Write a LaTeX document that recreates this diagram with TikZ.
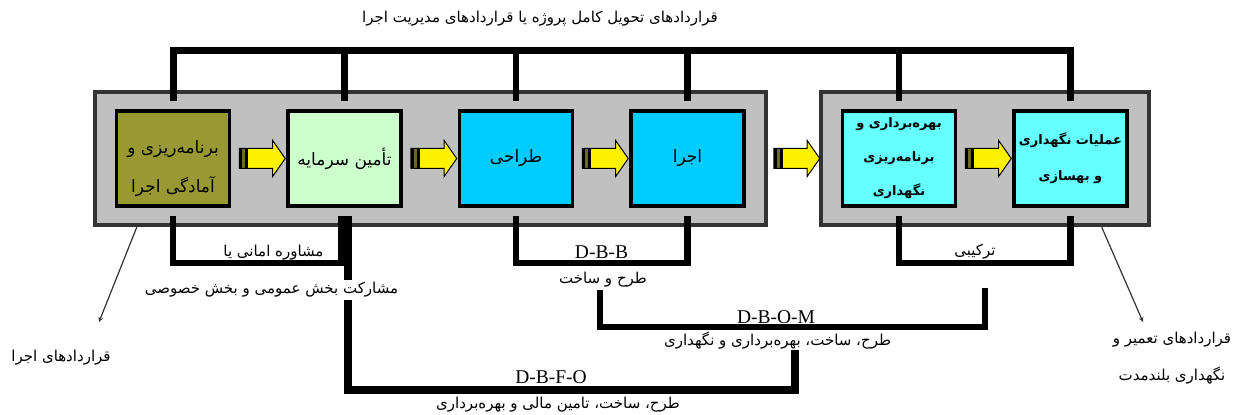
\documentclass[tikz,border=0pt]{standalone}
\usepackage{fontspec}
\usepackage{xcolor}
\usetikzlibrary{arrows.meta,arrows}
\usetikzlibrary{arrows,positioning,shadows,fit,shapes,calc,shapes.geometric,shapes.arrows,backgrounds}

\setmainfont{Liberation Serif}
\newfontfamily\farsifont[Script=Arabic]{DejaVu Sans}
\TeXXeTstate=1
\newcommand{\fatxt}[1]{{\farsifont\beginR #1\endR}}

\definecolor{olivebox}{HTML}{999933}
\definecolor{greenbox}{HTML}{CCFFCC}
\definecolor{bluebox}{HTML}{00CCFF}
\definecolor{cyanbox}{HTML}{66FFFF}
\definecolor{panelgray}{HTML}{C0C0C0}
\definecolor{panelrim}{HTML}{333333}

\begin{document}
\begin{tikzpicture}[
			x = 1pt, y = 1pt, % one unit is one pixel
			> = stealth, % arrow head style
			node distance = 171.5pt, % distance between stage boxes
			line join = miter
		]
		
		\tikzstyle{stage}=[
		draw = black,
		line width = 3.5pt,
		minimum width = 113pt,
		minimum height = 95pt,
		inner sep = 0pt,
		align = center,
		font = \fontsize{17}{39}\selectfont
		]
		\tikzstyle{panel}=[draw = panelrim, line width = 4pt, fill = panelgray, inner xsep = 20pt, inner ysep = 17.5pt]
		\tikzstyle{fatarrow}=[
		single arrow, draw = black, line width = 1pt, fill = yellow,
		minimum height = 46pt, text height = 19pt, text depth = 0pt, inner sep = 0pt,
		single arrow head extend = 8pt, single arrow tip angle = 110,
		path picture = {
			\fill[black] (path picture bounding box.south west) rectangle ([xshift=9pt]path picture bounding box.north west);
			\fill[olivebox!70!black] ([xshift=3pt]path picture bounding box.south west) rectangle ([xshift=6pt]path picture bounding box.north west);
		}
		]
		\tikzstyle{bar}=[draw = black, line width = 6.5pt]
		\tikzstyle{remark}=[font = \fontsize{15}{17}\selectfont, inner sep = 2pt]
		\tikzstyle{acronym}=[font = \fontsize{19.5}{22}\selectfont, inner sep = 1pt]
		\tikzstyle{pointer}=[->, draw = black!80, line width = 1.2pt]
		
		\useasboundingbox (0,0) rectangle (1235,415);
		
		% stages
		\node[stage, fill = olivebox] (b1) at (173, 256.5) {\rule{0pt}{33pt}\fatxt{برنامه‌ریزی و}\\\fatxt{آمادگی اجرا}};
		\node[stage, fill = greenbox, right of = b1] (b2) {\fatxt{تأمین سرمایه}};
		\node[stage, fill = bluebox, right of = b2] (b3) {\fatxt{طراحی}};
		\node[stage, fill = bluebox, right of = b3] (b4) {\fatxt{اجرا}};
		\node[stage, fill = cyanbox, right of = b4, xshift = 40pt, font = \fontsize{13}{34}\selectfont\bfseries] (b5) {\fatxt{بهره‌برداری و}\\\fatxt{برنامه‌ریزی}\\\fatxt{نگهداری}};
		\node[stage, fill = cyanbox, right of = b5, font = \fontsize{13}{36}\selectfont\bfseries] (b6) {\fatxt{عملیات نگهداری}\\\fatxt{و بهسازی}};
		
		\begin{scope}[on background layer]
			\node[panel, fit = (b1) (b4)] (p1) {};
			\node[panel, fit = (b5) (b6)] (p2) {};
		\end{scope}
		
		\node[fatarrow] (a1) at ($(b1.east)!0.5!(b2.west)$) {};
		\node[fatarrow] (a2) at ($(b2.east)!0.5!(b3.west)$) {};
		\node[fatarrow] (a3) at ($(b3.east)!0.5!(b4.west)$) {};
		\node[fatarrow] (a4) at ($(p1.east)!0.5!(p2.west)$) {};
		\node[fatarrow] (a5) at ($(b5.east)!0.5!(b6.west)$) {};
		
		% brackets
		\coordinate (top) at (0, 364.5);
		\coordinate (low) at (0, 152);
		\coordinate (b2l) at ([xshift=-3.5pt]b2.south);
		\coordinate (b2r) at ([xshift=3.5pt]b2.south);
		\coordinate (dbomL) at (600, 127);
		\coordinate (dbomR) at (985, 127);
		\coordinate (dbom) at (0, 88);
		\coordinate (dbfo) at (794.5, 25);
		\coordinate (dbfoE) at (794.5, 73);
		
		\draw[bar, line width = 7pt, shorten <= 8pt, shorten >= 8pt] (b1.north) |- (top -| b6.north) -- (b6.north);
		\draw[bar, shorten >= 8pt] (top -| b2.north) -- (b2.north);
		\draw[bar, shorten >= 8pt] (top -| b3.north) -- (b3.north);
		\draw[bar, shorten >= 8pt] (top -| b4.north) -- (b4.north);
		\draw[bar, shorten >= 8pt] (top -| b5.north) -- (b5.north);
		
		\draw[bar, shorten <= 8pt, shorten >= 8pt] (b1.south) |- (low -| b2l) -- (b2l);
		\draw[bar, shorten <= 8pt, shorten >= 8pt] (b3.south) |- (low -| b4.south) -- (b4.south);
		\draw[bar, shorten <= 8pt, shorten >= 8pt] (b5.south) |- (low -| b6.south) -- (b6.south);
		\draw[bar] (dbomL) |- (dbom -| dbomR) -- (dbomR);
		\draw[bar, line width = 8pt, shorten <= 8pt] (b2r) |- (dbfo) -- (dbfoE);
		
		% texts
		\node[remark] (t1) at (540, 396) {\fatxt{قراردادهای تحویل کامل پروژه یا قراردادهای مدیریت اجرا}};
		\node[remark] (t2) at (273.5, 162) {\fatxt{مشاوره امانی یا}};
		\node[remark, fill = white] (t3) at (271.5, 125) {\fatxt{مشارکت بخش عمومی و بخش خصوصی}};
		\node[acronym] (t4) at (601.5, 163) {D-B-B};
		\node[remark, fill = white] (t5) at (603, 135) {\fatxt{طرح و ساخت}};
		\node[remark] (t6) at (975, 163) {\fatxt{ترکیبی}};
		\node[acronym] (t7) at (776, 98) {D-B-O-M};
		\node[remark, fill = white, inner sep = 0.5pt] (t8) at (777.5, 74) {\fatxt{طرح، ساخت، بهره‌برداری و نگهداری}};
		\node[acronym] (t9) at (551, 38) {D-B-F-O};
		\node[remark] (t10) at (558, 10) {\fatxt{طرح، ساخت، تامین مالی و بهره‌برداری}};
		\node[remark] (t11) at (61, 57) {\fatxt{قراردادهای اجرا}};
		\node[remark, align = center, font = \fontsize{15}{37}\selectfont] (t12) at (1172, 56.5) {\fatxt{قراردادهای تعمیر و}\\\fatxt{نگهداری بلندمدت}};
		
		% contract groups
		\coordinate (tipL) at (99, 93);
		\coordinate (tipR) at (1143, 93);
		\draw[pointer] ([xshift=44pt]p1.south west) -- (tipL);
		\draw[pointer] ([xshift=-49pt]p2.south east) -- (tipR);
	\end{tikzpicture}
\end{document}
